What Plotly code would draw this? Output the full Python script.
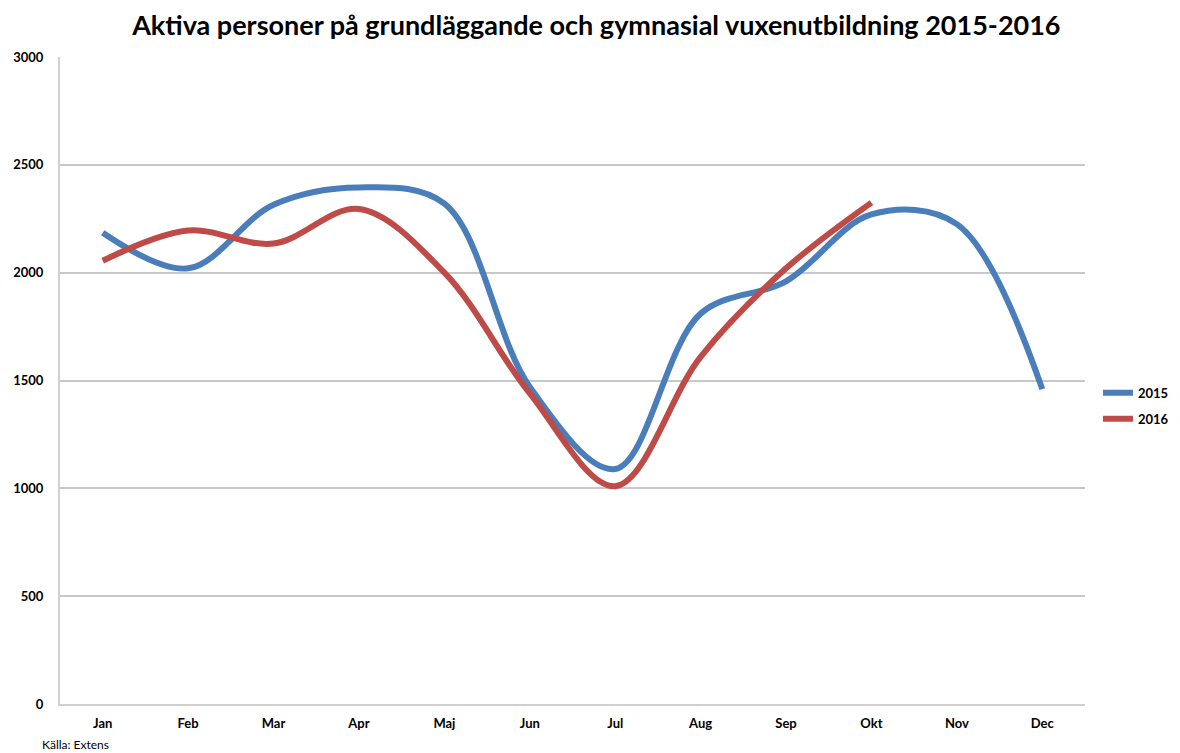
import plotly.graph_objects as go

months = ["Jan", "Feb", "Mar", "Apr", "Maj", "Jun", "Jul", "Aug", "Sep", "Okt", "Nov", "Dec"]
values_2015 = [2185, 2020, 2315, 2395, 2320, 1470, 1090, 1810, 1960, 2270, 2225, 1460]
months_2016 = ["Jan", "Feb", "Mar", "Apr", "Maj", "Jun", "Jul", "Aug", "Sep", "Okt"]
values_2016 = [2055, 2195, 2135, 2295, 2000, 1440, 1010, 1610, 2020, 2325]
y_ticks = [0, 500, 1000, 1500, 2000, 2500, 3000]

title_text = "Aktiva personer på grundläggande och gymnasial vuxenutbildning 2015-2016"
source_text = "Källa: Extens"

FONT = "Lato"

fig = go.Figure()
fig.add_trace(go.Scatter(
    x=months, y=values_2015, name="<b>2015</b>", mode="lines", legendgroup="a",
    line=dict(color="#4A7EBB", width=6, shape="spline", smoothing=1.0),
))
fig.add_trace(go.Scatter(
    x=months_2016, y=values_2016, name="<b>2016</b>", mode="lines", legendgroup="b",
    line=dict(color="#BE4B48", width=6, shape="spline", smoothing=1.0),
))

# page body has an 8px margin, so the figure is offset by 8px
fig.update_layout(
    width=1172, height=745,
    margin=dict(l=52, r=95, t=49, b=49, autoexpand=False),
    paper_bgcolor="white", plot_bgcolor="white",
    font=dict(family=FONT, color="black"),
    title=dict(text="<b>" + title_text + "</b>", x=0.502, xanchor="center",
               y=0.977, yanchor="middle", xref="container", yref="container",
               font=dict(size=27, family=FONT, color="black")),
    legend=dict(x=0.93, y=0.466, xanchor="left", yanchor="middle",
                xref="container", yref="container",
                font=dict(size=13, family=FONT, color="black"),
                tracegroupgap=6, itemwidth=30, bgcolor="rgba(0,0,0,0)"),
    showlegend=True,
)
fig.update_xaxes(
    categoryorder="array", categoryarray=months, range=[-0.5, 11.5],
    showgrid=False, showline=True, linecolor="#D0D0D0", linewidth=2,
    ticks="", ticklabelstandoff=6,
    tickfont=dict(size=13, family=FONT, color="black"),
    tickvals=months, ticktext=["<b>" + m + "</b>" for m in months],
)
fig.update_yaxes(
    range=[0, 3000], tickvals=y_ticks, ticktext=["<b>%d</b>" % v for v in y_ticks],
    showgrid=True, gridcolor="#C8C8C8", gridwidth=1.5,
    showline=True, linecolor="#D0D0D0", linewidth=2,
    zeroline=False, ticks="", ticklabelstandoff=12,
    tickfont=dict(size=13, family=FONT, color="black"),
)
fig.add_annotation(text=source_text, xref="paper", yref="paper",
                   x=-0.0195, y=-0.062, xanchor="left", yanchor="middle",
                   showarrow=False, font=dict(size=12, family=FONT, color="black"))

fig.write_html("out.html")
